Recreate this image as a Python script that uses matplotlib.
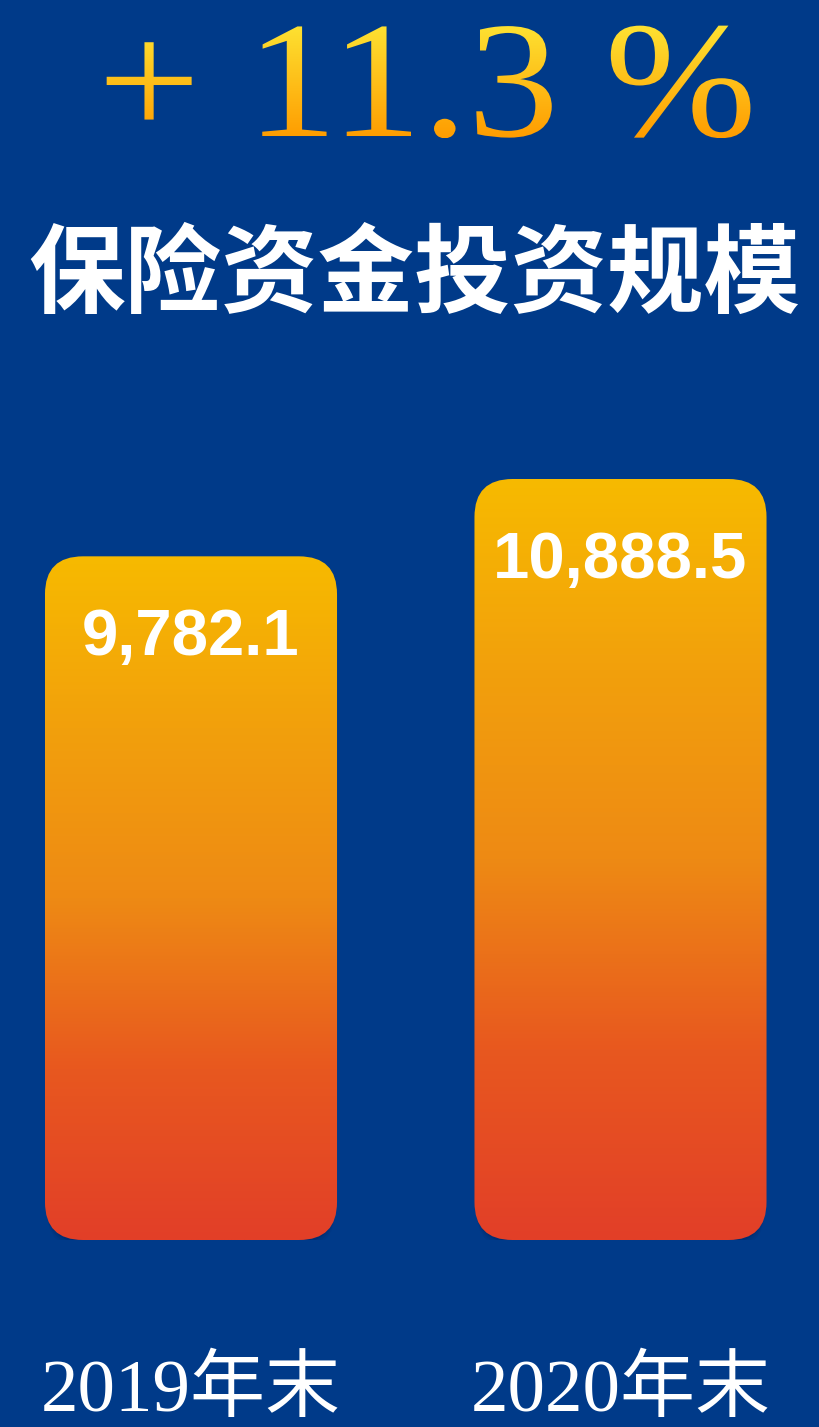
import numpy as np
import matplotlib
matplotlib.use("Agg")
import matplotlib.pyplot as plt
from matplotlib.patches import FancyBboxPatch, PathPatch
from matplotlib.textpath import TextPath
from matplotlib.font_manager import FontProperties
from matplotlib.colors import LinearSegmentedColormap
from matplotlib.transforms import Affine2D

# data
years = ["2019年末", "2020年末"]
values = [9782.1, 10888.5]
growth_text = "+ 11.3 %"
title_text = "保险资金投资规模"

BG = "#003A89"
W, H = 820, 1427

fig = plt.figure(figsize=(W / 100, H / 100), dpi=100, facecolor=BG)

# overlay for header text, in pixel units
top = fig.add_axes([0, 0, 1, 1])
top.set_xlim(0, W)
top.set_ylim(0, H)
top.axis("off")
top.set_zorder(2)
top.patch.set_alpha(0)

# gold gradient headline (slightly widened serif)
tp = TextPath((0, 0), growth_text, size=166,
              prop=FontProperties(family="Liberation Serif"))
tp = tp.transformed(Affine2D().scale(1.1, 1.0))
v = tp.vertices
cx, cy = (v[:, 0].min() + v[:, 0].max()) / 2, (v[:, 1].min() + v[:, 1].max()) / 2
tp = tp.transformed(Affine2D().translate(424 - cx, (H - 82) - cy))
gold = LinearSegmentedColormap.from_list("gold", ["#FF9C00", "#FDE232"])
pp = PathPatch(tp, facecolor="none", edgecolor="none")
top.add_patch(pp)
vv = tp.vertices
grad = np.linspace(0, 1, 256).reshape(-1, 1)
im = top.imshow(grad, cmap=gold, origin="lower", aspect="auto",
                extent=(vv[:, 0].min(), vv[:, 0].max(), vv[:, 1].min(), vv[:, 1].max()))
im.set_clip_path(pp)

top.text(W / 2 + 4, H - 276, title_text, ha="center", va="center", color="white",
         fontsize=69.5, fontweight="bold", family=["Noto Sans CJK SC", "DejaVu Sans"])

# bar chart
ax = fig.add_axes([0, 187 / H, 1, 0.6])
ax.set_facecolor("none")
ax.set_xlim(-0.4447, 1.4645)
ax.set_ylim(0, 10888.5 * (0.6 * H) / 761)
for s in ax.spines.values():
    s.set_visible(False)
ax.set_yticks([])

x = np.arange(len(values))
bw = 0.68
bars = ax.bar(x, values, width=bw, color="none", edgecolor="none")

# rounding in pixels converted to data units
xpp = (ax.get_xlim()[1] - ax.get_xlim()[0]) / W
ypp = (ax.get_ylim()[1] - ax.get_ylim()[0]) / (0.6 * H)
r = 38
aspect = ypp / xpp

fire = LinearSegmentedColormap.from_list(
    "fire", ["#E23F28", "#E8581F", "#EE8A14", "#F2A00C", "#F7BA00"])

for b, val in zip(bars, values):
    x0, w, h = b.get_x(), b.get_width(), b.get_height()
    # soft shadow under the bar
    for k, a in [(3, 0.18), (6, 0.12), (9, 0.07)]:
        sh = FancyBboxPatch((x0 + 2 * xpp, -k * ypp), w - 4 * xpp, h,
                            boxstyle=f"round,pad=0,rounding_size={r * xpp}",
                            mutation_aspect=aspect, facecolor="#001B4D",
                            edgecolor="none", alpha=a, zorder=1)
        ax.add_patch(sh)
    patch = FancyBboxPatch((x0, 0), w, h,
                           boxstyle=f"round,pad=0,rounding_size={r * xpp}",
                           mutation_aspect=aspect, facecolor="none",
                           edgecolor="none", zorder=2)
    ax.add_patch(patch)
    g = ax.imshow(grad, cmap=fire, origin="lower", aspect="auto",
                  extent=(x0, x0 + w, 0, h), zorder=2)
    g.set_clip_path(patch)
    ax.annotate(f"{val:,.1f}", (x0 + w / 2, h), xytext=(0, -59), textcoords="offset points",
                ha="center", va="center", color="white", fontsize=47,
                fontweight="bold", family="Liberation Sans", zorder=3)

ax.set_xticks(x)
ax.set_xticklabels(years, color="white", fontsize=54,
                   family=["Liberation Serif", "Noto Sans CJK SC"])
ax.tick_params(axis="x", length=0, pad=85)

fig.savefig("out.png", dpi=100, facecolor=BG)
